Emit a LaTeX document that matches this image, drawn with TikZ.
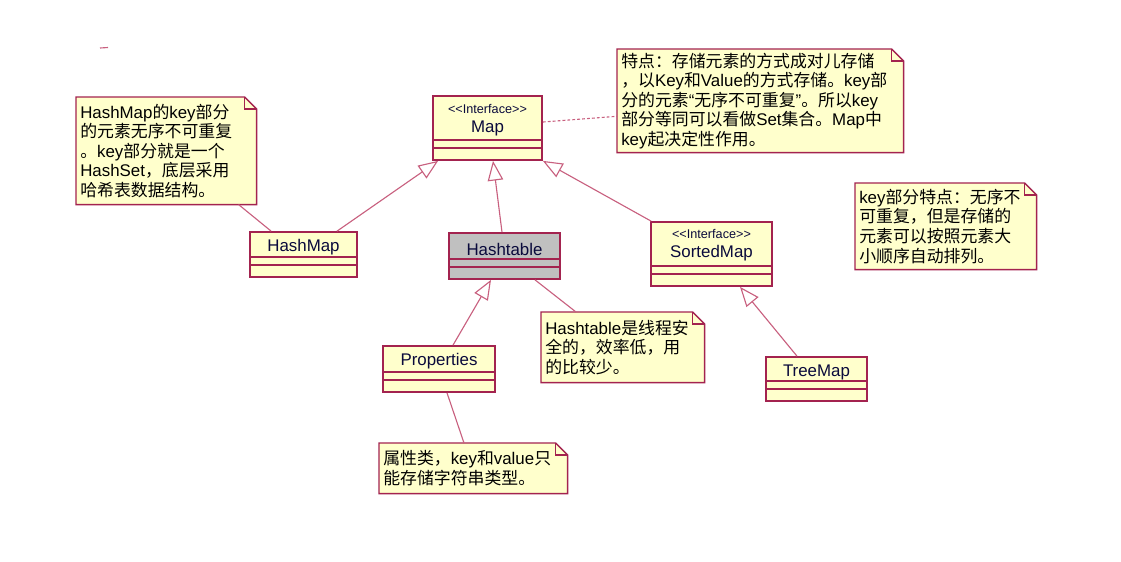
\documentclass[tikz,border=0pt]{standalone}
\usepackage{fontspec}
\setmainfont{Liberation Sans}
\newfontfamily\cjkfont{Noto Sans CJK SC}
\newfontfamily\latinfont{Liberation Sans}
\usetikzlibrary{arrows.meta,calc}

% Switch to the CJK font for Chinese characters
\XeTeXinterchartokenstate=1
\newXeTeXintercharclass\cjkclass
\makeatletter
\count@="4E00
\loop\ifnum\count@<"A000
  \XeTeXcharclass\count@=\cjkclass
  \advance\count@ by 1
\repeat
\count@="3000
\loop\ifnum\count@<"3040
  \XeTeXcharclass\count@=\cjkclass
  \advance\count@ by 1
\repeat
\count@="FF00
\loop\ifnum\count@<"FFF0
  \XeTeXcharclass\count@=\cjkclass
  \advance\count@ by 1
\repeat
\makeatother
\XeTeXinterchartoks 0 \cjkclass={\cjkfont}
\XeTeXinterchartoks 4095 \cjkclass={\cjkfont}
\XeTeXinterchartoks \cjkclass 0={\latinfont}
\XeTeXinterchartoks \cjkclass 4095={\latinfont}

\begin{document}
\begin{tikzpicture}[x=0.025cm, y=-0.025cm,
    classbox/.style={draw=borderColour, line width=1.2pt, fill=fillColourA, inner sep=0pt,
        path picture={\draw[borderColour, line width=1pt]
            ([yshift=0.5cm]path picture bounding box.south west) -- ([yshift=0.5cm]path picture bounding box.south east)
            ([yshift=0.3cm]path picture bounding box.south west) -- ([yshift=0.3cm]path picture bounding box.south east);}},
    classname/.style={text=textColour, font=\fontsize{12}{14}\selectfont, inner sep=0pt},
    stereo/.style={text=textColour, font=\fontsize{9}{10}\selectfont, inner sep=0pt},
    notebox/.style={fill=fillColourA, anchor=north west, align=left, inner xsep=0.1cm, inner ysep=0pt,
        font=\fontsize{12}{13.9}\selectfont},
    noteline/.style={draw=borderColour, line width=1pt},
    link/.style={draw=lineColour, line width=0.8pt},
    inherit/.style={link, -{Triangle[open, length=14pt, width=11pt]}}]
    \definecolor{borderColour}{HTML}{A3234F}
    \definecolor{lineColour}{HTML}{C8607F}
    \definecolor{fillColourA}{HTML}{FFFFCC}
    \definecolor{fillColourB}{HTML}{C0C0C0}
    \definecolor{textColour}{HTML}{0A0A3C}

    \def\foldSize{0.3cm}
    \def\stereoText{<\kern0pt<Interface>\kern0pt>}

    \useasboundingbox (0,0) rectangle (1121,561);

    % Draw classes
    \node[classbox, minimum width=2.725cm, minimum height=1.6cm] (map) at (487.5,128) {};
    \node[stereo] (mapstereo) at (487.5,109) {\stereoText};
    \node[classname] (mapname) at (487.5,128) {Map};

    \node[classbox, minimum width=2.675cm, minimum height=1.125cm] (hashmap) at (303.5,254.5) {};
    \node[classname] (hashmapname) at (303.5,247) {HashMap};

    \node[classbox, fill=fillColourB, minimum width=2.775cm, minimum height=1.15cm] (hashtable) at (504.5,256) {};
    \node[classname] (hashtablename) at (504.5,249) {Hashtable};

    \node[classbox, minimum width=3.025cm, minimum height=1.6cm] (sortedmap) at (711.5,254) {};
    \node[stereo] (sortedmapstereo) at (711.5,234) {\stereoText};
    \node[classname] (sortedmapname) at (711.5,253) {SortedMap};

    \node[classbox, minimum width=2.8cm, minimum height=1.15cm] (properties) at (439,369) {};
    \node[classname] (propertiesname) at (439,361) {Properties};

    \node[classbox, minimum width=2.525cm, minimum height=1.1cm] (treemap) at (816.5,379) {};
    \node[classname] (treemapname) at (816.5,372) {TreeMap};

    % Draw notes
    \node[notebox, text width=4.3cm, minimum height=2.675cm] (hashmapnote) at (76,97)
        {HashMap的key部分\\的元素无序不可重复\\。key部分就是一个\\HashSet，底层采用\\哈希表数据结构。};
    \node[notebox, text width=6.95cm, minimum height=2.575cm] (mapnote) at (617,49)
        {特点：存储元素的方式成对儿存储\\，以Key和Value的方式存储。key部\\分的元素“无序不可重复”。所以key\\部分等同可以看做Set集合。Map中\\key起决定性作用。};
    \node[notebox, text width=4.325cm, minimum height=2.15cm] (keynote) at (855,183)
        {key部分特点：无序不\\可重复，但是存储的\\元素可以按照元素大\\小顺序自动排列。};
    \node[notebox, text width=3.875cm, minimum height=1.75cm] (hashtablenote) at (541,312)
        {Hashtable是线程安\\全的，效率低，用\\的比较少。};
    \node[notebox, text width=4.5cm, minimum height=1.25cm] (propnote) at (379,443)
        {属性类，key和value只\\能存储字符串类型。};

    % Draw note outlines with folded corner
    \foreach \n in {hashmapnote,mapnote,keynote,hashtablenote,propnote} {
        \fill[white] (\n.north east) -- ([xshift=-\foldSize]\n.north east) -- ([yshift=-\foldSize]\n.north east) -- cycle;
        \draw[noteline] (\n.north west) -- ([xshift=-\foldSize]\n.north east) -- ([yshift=-\foldSize]\n.north east)
            -- (\n.south east) -- (\n.south west) -- cycle;
        \draw[noteline] ([xshift=-\foldSize]\n.north east) |- ([yshift=-\foldSize]\n.north east);
    }

    % Draw generalizations
    \draw[inherit] ($(hashmap.north)+(33.5,0)$) -- ($(map.south west)+(6,0)$);
    \draw[inherit] ($(hashtable.north)+(-2.5,0)$) -- ($(map.south)+(5.5,0)$);
    \draw[inherit] ($(sortedmap.north west)+(1,0)$) -- (map.south east);
    \draw[inherit] ($(properties.north)+(14,0)$) -- ($(hashtable.south)+(-13.5,0)$);
    \draw[inherit] ($(treemap.north)+(-19.5,0)$) -- ($(sortedmap.south)+(28.5,0)$);

    % Draw note links
    \draw[link] ($(hashmapnote.south east)+(-18,0)$) -- ($(hashmap.north west)+(22,0)$);
    \draw[link, dash pattern=on 2pt off 1.5pt] ($(map.east)+(0,-6)$) -- ($(mapnote.west)+(0,15.5)$);
    \draw[link] ($(hashtable.south)+(30.5,0)$) -- ($(hashtablenote.north west)+(35,0)$);
    \draw[link] ($(properties.south)+(8,0)$) -- ($(propnote.north west)+(85,0)$);

    % Stray mark
    \draw[link] (100,48) -- (108,47.5);

\end{tikzpicture}
\end{document}
